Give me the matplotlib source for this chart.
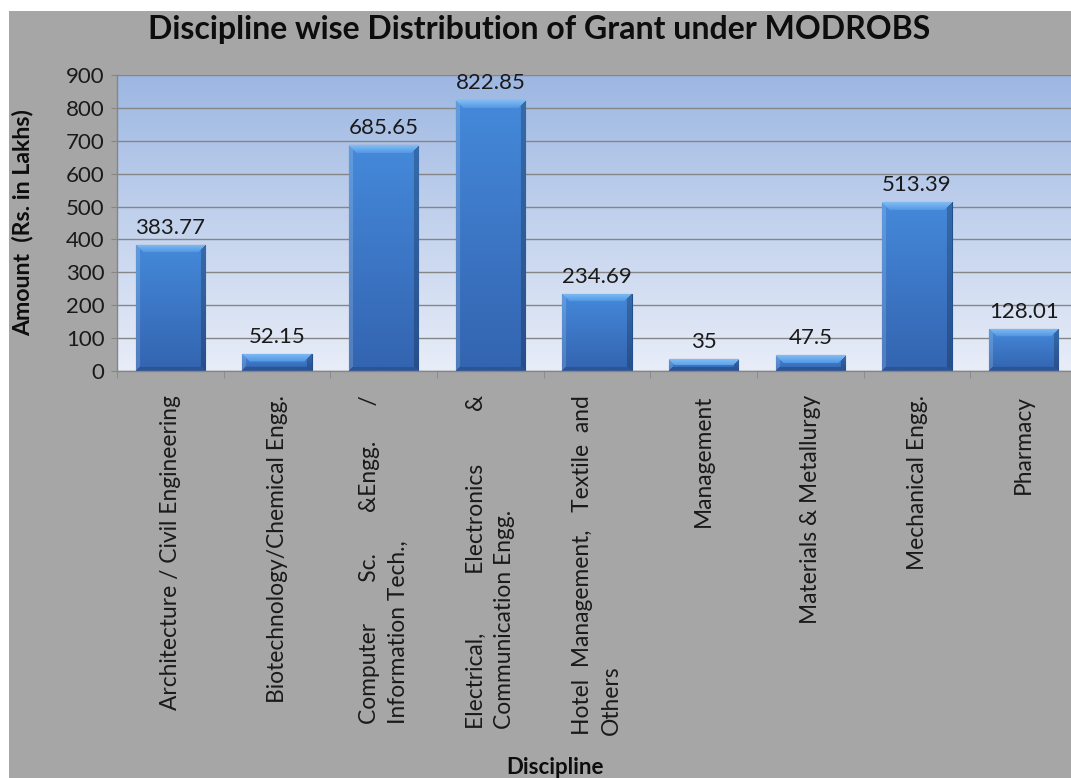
import numpy as np
import matplotlib
matplotlib.use("Agg")
import matplotlib.pyplot as plt
from matplotlib.patches import Rectangle
from matplotlib.colors import to_rgb

categories = [
    "Architecture / Civil Engineering",
    "Biotechnology/Chemical Engg.",
    "Computer       Sc.       &Engg.      /\nInformation Tech.,",
    "Electrical,          Electronics         &\nCommunication Engg.",
    "Hotel  Management,   Textile  and\nOthers",
    "Management",
    "Materials & Metallurgy",
    "Mechanical Engg.",
    "Pharmacy",
]
values = [383.77, 52.15, 685.65, 822.85, 234.69, 35, 47.5, 513.39, 128.01]
value_labels = ["383.77", "52.15", "685.65", "822.85", "234.69", "35", "47.5", "513.39", "128.01"]
yticks = [0, 100, 200, 300, 400, 500, 600, 700, 800, 900]

W, H = 1071, 778
FONT = "Lato"
plt.rcParams["font.family"] = [FONT, "DejaVu Sans"]

fig = plt.figure(figsize=(W / 100, H / 100), dpi=100, facecolor="white")
fig.patches.append(Rectangle((9 / W, 0), 1, (H - 11) / H, transform=fig.transFigure,
                             facecolor="#a6a6a6", edgecolor="none", zorder=-10))

left, right, top, bottom = 117, 1077, 75, 371
ax = fig.add_axes([left / W, 1 - bottom / H, (right - left) / W, (bottom - top) / H])
ax.set_facecolor("none")

n = len(categories)
x = np.arange(n)
ax.set_xlim(-0.5, n - 0.5)
ax.set_ylim(0, 900)

# background gradient
c_top = np.array(to_rgb("#9db7e2"))
c_bot = np.array(to_rgb("#e8edf8"))
t = np.linspace(0, 1, 256)[:, None]
bg = c_top[None, None, :] * (1 - t[..., None]) + c_bot[None, None, :] * t[..., None]
bg = np.repeat(bg, 2, axis=1)
ax.imshow(bg, extent=[-0.5, n - 0.5, 0, 900], aspect="auto", zorder=0, interpolation="bilinear")

ax.set_yticks(yticks)
ax.yaxis.grid(True, color="#868686", linewidth=1.0, zorder=1)
ax.set_axisbelow(True)
for s in ["left", "bottom"]:
    ax.spines[s].set_color("#868686")
    ax.spines[s].set_linewidth(1.0)
for s in ["top", "right"]:
    ax.spines[s].set_visible(False)

bw = 0.65
bars = ax.bar(x, values, width=bw, color="#3d7ccc", edgecolor="#21508f", linewidth=0.8, zorder=2)

px_per_unit = (bottom - top) / 900.0
bar_px = bw * (right - left) / n


def bar_image(hpx, wpx):
    ny = max(int(round(hpx)), 2)
    nx = max(int(round(wpx)), 2)
    i = np.arange(ny)[:, None] * np.ones((1, nx))
    j = np.ones((ny, 1)) * np.arange(nx)[None, :]
    tv = i / max(ny - 1, 1)
    ctop = np.array(to_rgb("#4589da"))
    cbot = np.array(to_rgb("#3364b0"))
    img = ctop * (1 - tv[..., None]) + cbot * tv[..., None]
    b = 8.0
    dtop = i
    dbot = ny - 1 - i
    dl = j
    dr = nx - 1 - j
    m = np.minimum(np.minimum(dtop, dbot), np.minimum(dl, dr))
    topreg = (dtop == m) & (dtop < b)
    botreg = (dbot == m) & (dbot < 4) & ~topreg
    lreg = (dl == m) & (dl < 4) & ~topreg & ~botreg
    rreg = (dr == m) & (dr < 5) & ~topreg & ~botreg
    ct1 = np.array(to_rgb("#80bbf4"))
    ct2 = np.array(to_rgb("#4f95e2"))
    f = (dtop / b)[..., None]
    img = np.where(topreg[..., None], ct1 * (1 - f) + ct2 * f, img)
    img = np.where(botreg[..., None], np.array(to_rgb("#2a5596")), img)
    img = np.where(lreg[..., None], img * 0.85 + np.array([1, 1, 1]) * 0.15, img)
    img = np.where(rreg[..., None], img * 0.78, img)
    return img


for rect in bars:
    h = rect.get_height()
    img = bar_image(h * px_per_unit, bar_px)
    im = ax.imshow(img, extent=[rect.get_x(), rect.get_x() + rect.get_width(), 0, h],
                   aspect="auto", zorder=2.5, interpolation="bilinear")
    im.set_clip_path(rect)

for xi, v, lab in zip(x, values, value_labels):
    ax.annotate(lab, (xi, v), xytext=(0, 7), textcoords="offset pixels",
                ha="center", va="bottom", fontsize=16, color="#1a1a1a", zorder=4)

ax.set_yticklabels([str(v) for v in yticks], fontsize=16, color="#1a1a1a")
ax.tick_params(axis="y", length=4, color="#868686", pad=5)

ax.set_xticks(x)
ax.set_xticklabels(categories, rotation=90, fontsize=16.4, color="#1a1a1a",
                   ha="center", va="top", multialignment="left", linespacing=1.45)
ax.tick_params(axis="x", which="major", length=0, pad=24 * 0.72)
ax.set_xticks(np.arange(n + 1) - 0.5, minor=True)
ax.tick_params(axis="x", which="minor", length=5, color="#868686", direction="out")

fig.text(539 / W, 1 - 30 / H, "Discipline wise Distribution of Grant under MODROBS",
         ha="center", va="center", fontsize=23, fontweight="bold", color="#0d0d0d")
fig.text(23 / W, 1 - 223 / H, "Amount  (Rs. in Lakhs)", rotation=90, ha="center", va="center",
         fontsize=16.7, fontweight="bold", color="#0d0d0d")
fig.text(555 / W, 1 - 767 / H, "Discipline", ha="center", va="center",
         fontsize=16, fontweight="bold", color="#0d0d0d")

fig.savefig("out.png", dpi=100, facecolor="white")
